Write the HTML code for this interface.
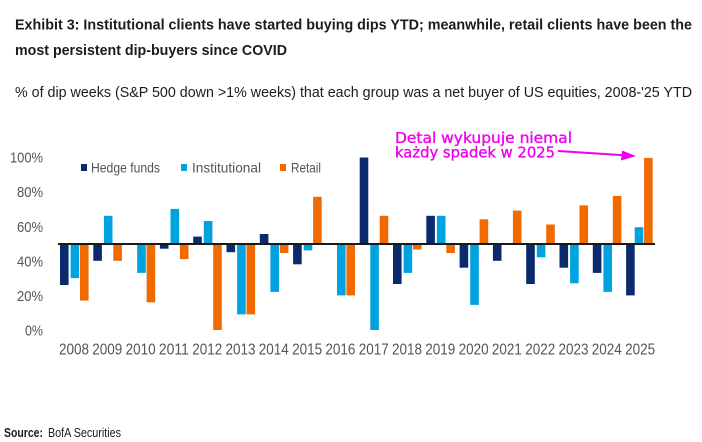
<!DOCTYPE html>
<html>
<head>
<meta charset="utf-8">
<style>
html,body{margin:0;padding:0;background:#fff;}
svg{display:block;}
</style>
</head>
<body>
<svg width="702" height="442" viewBox="0 0 702 442" xmlns="http://www.w3.org/2000/svg">
<rect x="0" y="0" width="702" height="442" fill="#ffffff"/>
<!-- Titles -->
<g font-family="Liberation Sans, Arial, sans-serif" fill="#1c1c1c">
<text x="15" y="29.5" font-size="15" font-weight="bold" textLength="677" lengthAdjust="spacingAndGlyphs">Exhibit 3: Institutional clients have started buying dips YTD; meanwhile, retail clients have been the</text>
<text x="15" y="55" font-size="15" font-weight="bold" textLength="272" lengthAdjust="spacingAndGlyphs">most persistent dip-buyers since COVID</text>
<text x="15" y="97" font-size="15" textLength="677" lengthAdjust="spacingAndGlyphs">% of dip weeks (S&amp;P 500 down &gt;1% weeks) that each group was a net buyer of US equities, 2008-'25 YTD</text>
<text x="4" y="437" font-size="13" font-weight="bold" textLength="39" lengthAdjust="spacingAndGlyphs">Source:</text>
<text x="48" y="437" font-size="13" textLength="73" lengthAdjust="spacingAndGlyphs">BofA Securities</text>
</g>
<!-- Y axis labels -->
<g font-family="Liberation Sans, Arial, sans-serif" fill="#555" font-size="15" text-anchor="end">
<text x="43" y="162.5" textLength="33" lengthAdjust="spacingAndGlyphs">100%</text>
<text x="43" y="197" textLength="26" lengthAdjust="spacingAndGlyphs">80%</text>
<text x="43" y="232" textLength="26" lengthAdjust="spacingAndGlyphs">60%</text>
<text x="43" y="266.5" textLength="26" lengthAdjust="spacingAndGlyphs">40%</text>
<text x="43" y="301" textLength="26" lengthAdjust="spacingAndGlyphs">20%</text>
<text x="43" y="335.5" textLength="18" lengthAdjust="spacingAndGlyphs">0%</text>
</g>
<!-- Legend -->
<g font-family="Liberation Sans, Arial, sans-serif" fill="#555" font-size="14">
<rect x="81" y="164" width="6" height="7" fill="#0b2a6e"/>
<text x="91" y="172.5" textLength="69" lengthAdjust="spacingAndGlyphs">Hedge funds</text>
<rect x="181" y="164" width="6" height="7" fill="#00a3e0"/>
<text x="192" y="172.5" textLength="69" lengthAdjust="spacingAndGlyphs">Institutional</text>
<rect x="280" y="164" width="6" height="7" fill="#f06a00"/>
<text x="291" y="172.5" textLength="30" lengthAdjust="spacingAndGlyphs">Retail</text>
</g>
<!-- Bars -->
<g id="bars">
<rect x="60" y="243.5" width="8.6" height="41.5" fill="#0b2a6e"/>
<rect x="70.6" y="243.5" width="8.6" height="34.6" fill="#00a3e0"/>
<rect x="80" y="243.5" width="8.6" height="57.1" fill="#f06a00"/>
<rect x="93.3" y="243.5" width="8.6" height="17.3" fill="#0b2a6e"/>
<rect x="103.9" y="215.8" width="8.6" height="27.7" fill="#00a3e0"/>
<rect x="113.3" y="243.5" width="8.6" height="17.3" fill="#f06a00"/>
<rect x="137.2" y="243.5" width="8.6" height="29.4" fill="#00a3e0"/>
<rect x="146.6" y="243.5" width="8.6" height="58.8" fill="#f06a00"/>
<rect x="159.9" y="243.5" width="8.6" height="5.2" fill="#0b2a6e"/>
<rect x="170.5" y="208.9" width="8.6" height="34.6" fill="#00a3e0"/>
<rect x="179.9" y="243.5" width="8.6" height="15.6" fill="#f06a00"/>
<rect x="193.2" y="236.6" width="8.6" height="6.9" fill="#0b2a6e"/>
<rect x="203.8" y="221" width="8.6" height="22.5" fill="#00a3e0"/>
<rect x="213.2" y="243.5" width="8.6" height="86.5" fill="#f06a00"/>
<rect x="226.5" y="243.5" width="8.6" height="8.7" fill="#0b2a6e"/>
<rect x="237.1" y="243.5" width="8.6" height="70.9" fill="#00a3e0"/>
<rect x="246.5" y="243.5" width="8.6" height="70.9" fill="#f06a00"/>
<rect x="259.8" y="234" width="8.6" height="9.5" fill="#0b2a6e"/>
<rect x="270.4" y="243.5" width="8.6" height="48.4" fill="#00a3e0"/>
<rect x="279.8" y="243.5" width="8.6" height="9.5" fill="#f06a00"/>
<rect x="293.1" y="243.5" width="8.6" height="20.8" fill="#0b2a6e"/>
<rect x="303.7" y="243.5" width="8.6" height="6.9" fill="#00a3e0"/>
<rect x="313.1" y="196.8" width="8.6" height="46.7" fill="#f06a00"/>
<rect x="337" y="243.5" width="8.6" height="51.9" fill="#00a3e0"/>
<rect x="346.4" y="243.5" width="8.6" height="51.9" fill="#f06a00"/>
<rect x="359.7" y="157.5" width="8.6" height="86" fill="#0b2a6e"/>
<rect x="370.3" y="243.5" width="8.6" height="86.5" fill="#00a3e0"/>
<rect x="379.7" y="215.8" width="8.6" height="27.7" fill="#f06a00"/>
<rect x="393" y="243.5" width="8.6" height="40.5" fill="#0b2a6e"/>
<rect x="403.6" y="243.5" width="8.6" height="29.4" fill="#00a3e0"/>
<rect x="413" y="243.5" width="8.6" height="6" fill="#f06a00"/>
<rect x="426.3" y="215.8" width="8.6" height="27.7" fill="#0b2a6e"/>
<rect x="436.9" y="215.8" width="8.6" height="27.7" fill="#00a3e0"/>
<rect x="446.3" y="243.5" width="8.6" height="9.5" fill="#f06a00"/>
<rect x="459.6" y="243.5" width="8.6" height="24.2" fill="#0b2a6e"/>
<rect x="470.2" y="243.5" width="8.6" height="61.4" fill="#00a3e0"/>
<rect x="479.6" y="219.3" width="8.6" height="24.2" fill="#f06a00"/>
<rect x="492.9" y="243.5" width="8.6" height="17.3" fill="#0b2a6e"/>
<rect x="512.9" y="210.6" width="8.6" height="32.9" fill="#f06a00"/>
<rect x="526.2" y="243.5" width="8.6" height="40.5" fill="#0b2a6e"/>
<rect x="536.8" y="243.5" width="8.6" height="13.8" fill="#00a3e0"/>
<rect x="546.2" y="224.5" width="8.6" height="19" fill="#f06a00"/>
<rect x="559.5" y="243.5" width="8.6" height="24.2" fill="#0b2a6e"/>
<rect x="570.1" y="243.5" width="8.6" height="39.8" fill="#00a3e0"/>
<rect x="579.5" y="205.4" width="8.6" height="38.1" fill="#f06a00"/>
<rect x="592.8" y="243.5" width="8.6" height="29.4" fill="#0b2a6e"/>
<rect x="603.4" y="243.5" width="8.6" height="48.4" fill="#00a3e0"/>
<rect x="612.8" y="195.9" width="8.6" height="47.6" fill="#f06a00"/>
<rect x="626.1" y="243.5" width="8.6" height="51.9" fill="#0b2a6e"/>
<rect x="634.7" y="227.2" width="8.6" height="16.3" fill="#00a3e0"/>
<rect x="644.1" y="157.9" width="8.6" height="85.6" fill="#f06a00"/>
</g>
<!-- Baseline -->
<line x1="58" y1="244" x2="655" y2="244" stroke="#1a1a1a" stroke-width="2"/>
<!-- X labels -->
<g font-family="Liberation Sans, Arial, sans-serif" fill="#555" font-size="16" text-anchor="middle">
<text x="74" y="354.5" textLength="30" lengthAdjust="spacingAndGlyphs">2008</text>
<text x="107.3" y="354.5" textLength="30" lengthAdjust="spacingAndGlyphs">2009</text>
<text x="140.6" y="354.5" textLength="30" lengthAdjust="spacingAndGlyphs">2010</text>
<text x="173.9" y="354.5" textLength="30" lengthAdjust="spacingAndGlyphs">2011</text>
<text x="207.2" y="354.5" textLength="30" lengthAdjust="spacingAndGlyphs">2012</text>
<text x="240.5" y="354.5" textLength="30" lengthAdjust="spacingAndGlyphs">2013</text>
<text x="273.8" y="354.5" textLength="30" lengthAdjust="spacingAndGlyphs">2014</text>
<text x="307.1" y="354.5" textLength="30" lengthAdjust="spacingAndGlyphs">2015</text>
<text x="340.4" y="354.5" textLength="30" lengthAdjust="spacingAndGlyphs">2016</text>
<text x="373.7" y="354.5" textLength="30" lengthAdjust="spacingAndGlyphs">2017</text>
<text x="407" y="354.5" textLength="30" lengthAdjust="spacingAndGlyphs">2018</text>
<text x="440.3" y="354.5" textLength="30" lengthAdjust="spacingAndGlyphs">2019</text>
<text x="473.6" y="354.5" textLength="30" lengthAdjust="spacingAndGlyphs">2020</text>
<text x="506.9" y="354.5" textLength="30" lengthAdjust="spacingAndGlyphs">2021</text>
<text x="540.2" y="354.5" textLength="30" lengthAdjust="spacingAndGlyphs">2022</text>
<text x="573.5" y="354.5" textLength="30" lengthAdjust="spacingAndGlyphs">2023</text>
<text x="606.8" y="354.5" textLength="30" lengthAdjust="spacingAndGlyphs">2024</text>
<text x="640.1" y="354.5" textLength="30" lengthAdjust="spacingAndGlyphs">2025</text>
</g>
<!-- Annotation -->
<g font-family="DejaVu Sans, Liberation Sans, sans-serif" fill="#ee00ee" stroke="#ee00ee" stroke-width="0.35" font-size="15">
<text x="395" y="143" textLength="177" lengthAdjust="spacingAndGlyphs">Detal wykupuje niemal</text>
<text x="395" y="157.3" textLength="160" lengthAdjust="spacingAndGlyphs">każdy spadek w 2025</text>
</g>
<line x1="558" y1="151" x2="624" y2="155.3" stroke="#ee00ee" stroke-width="2"/>
<polygon points="636,156 622,150.5 621,160.5" fill="#ee00ee"/>
</svg>
</body>
</html>
